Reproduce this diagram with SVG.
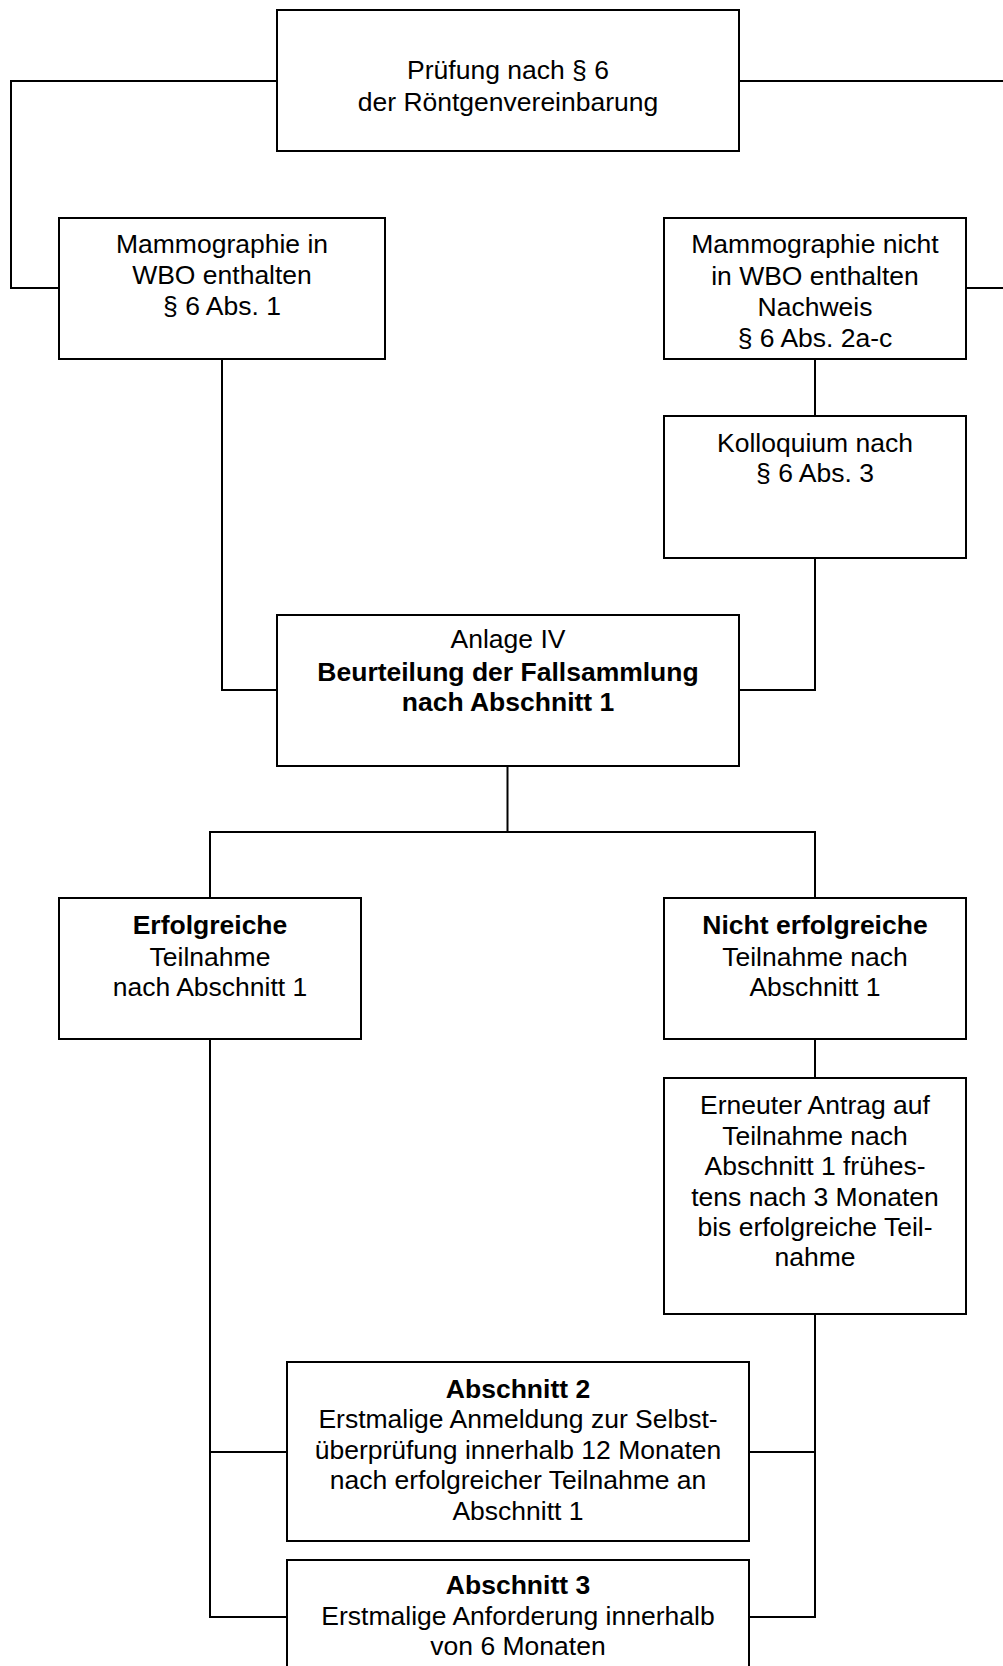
<svg xmlns="http://www.w3.org/2000/svg" width="1003" height="1666" viewBox="0 0 1003 1666">
<style>
.box{fill:#fff;stroke:#000;stroke-width:2}
.conn{fill:none;stroke:#000;stroke-width:2}
text{font-family:"Liberation Sans",Arial,sans-serif;font-size:26.5px;fill:#000;text-anchor:middle}
.b{font-weight:bold}
</style>
<rect width="1003" height="1666" fill="#fff"/>
<g id="connectors">
<path class="conn" d="M277,81 H11 V288 H59"/>
<path class="conn" d="M739,81 H1003"/>
<path class="conn" d="M966,288 H1003"/>
<path class="conn" d="M222,359 V690 H277"/>
<path class="conn" d="M815,359 V416"/>
<path class="conn" d="M815,558 V690 H739"/>
<path class="conn" d="M507.5,766 V832"/>
<path class="conn" d="M210,898 V832 H815 V898"/>
<path class="conn" d="M815,1039 V1078"/>
<path class="conn" d="M210,1039 V1617 H287 M210,1452 H287"/>
<path class="conn" d="M815,1314 V1617 H749 M815,1452 H749"/>
</g>
<g id="node-pruefung">
<rect class="box" x="277" y="10" width="462" height="141"/>
<text x="508" y="79">Prüfung nach § 6</text>
<text x="508" y="111">der Röntgenvereinbarung</text>
</g>
<g id="node-mammo-in">
<rect class="box" x="59" y="218" width="326" height="141"/>
<text x="222" y="253">Mammographie in</text>
<text x="222" y="284">WBO enthalten</text>
<text x="222" y="315">§ 6 Abs. 1</text>
</g>
<g id="node-mammo-nicht">
<rect class="box" x="664" y="218" width="302" height="141"/>
<text x="815" y="253">Mammographie nicht</text>
<text x="815" y="284.5">in WBO enthalten</text>
<text x="815" y="316">Nachweis</text>
<text x="815" y="347">§ 6 Abs. 2a-c</text>
</g>
<g id="node-kolloquium">
<rect class="box" x="664" y="416" width="302" height="142"/>
<text x="815" y="451.5">Kolloquium nach</text>
<text x="815" y="482">§ 6 Abs. 3</text>
</g>
<g id="node-anlage">
<rect class="box" x="277" y="615" width="462" height="151"/>
<text x="508" y="648">Anlage IV</text>
<text x="508" y="680.5" class="b">Beurteilung der Fallsammlung</text>
<text x="508" y="711" class="b">nach Abschnitt 1</text>
</g>
<g id="node-erfolgreich">
<rect class="box" x="59" y="898" width="302" height="141"/>
<text x="210" y="934" class="b">Erfolgreiche</text>
<text x="210" y="965.5">Teilnahme</text>
<text x="210" y="996">nach Abschnitt 1</text>
</g>
<g id="node-nicht-erfolgreich">
<rect class="box" x="664" y="898" width="302" height="141"/>
<text x="815" y="934" class="b">Nicht erfolgreiche</text>
<text x="815" y="965.5">Teilnahme nach</text>
<text x="815" y="996">Abschnitt 1</text>
</g>
<g id="node-erneuter">
<rect class="box" x="664" y="1078" width="302" height="236"/>
<text x="815" y="1113.5">Erneuter Antrag auf</text>
<text x="815" y="1144.5">Teilnahme nach</text>
<text x="815" y="1175">Abschnitt 1 frühes-</text>
<text x="815" y="1205.5">tens nach 3 Monaten</text>
<text x="815" y="1236">bis erfolgreiche Teil-</text>
<text x="815" y="1266">nahme</text>
</g>
<g id="node-abschnitt2">
<rect class="box" x="287" y="1362" width="462" height="179"/>
<text x="518" y="1397.5" class="b">Abschnitt 2</text>
<text x="518" y="1428">Erstmalige Anmeldung zur Selbst-</text>
<text x="518" y="1458.5">überprüfung innerhalb 12 Monaten</text>
<text x="518" y="1489">nach erfolgreicher Teilnahme an</text>
<text x="518" y="1519.5">Abschnitt 1</text>
</g>
<g id="node-abschnitt3">
<rect class="box" x="287" y="1560" width="462" height="130"/>
<text x="518" y="1594" class="b">Abschnitt 3</text>
<text x="518" y="1625">Erstmalige Anforderung innerhalb</text>
<text x="518" y="1655">von 6 Monaten</text>
</g>
</svg>
